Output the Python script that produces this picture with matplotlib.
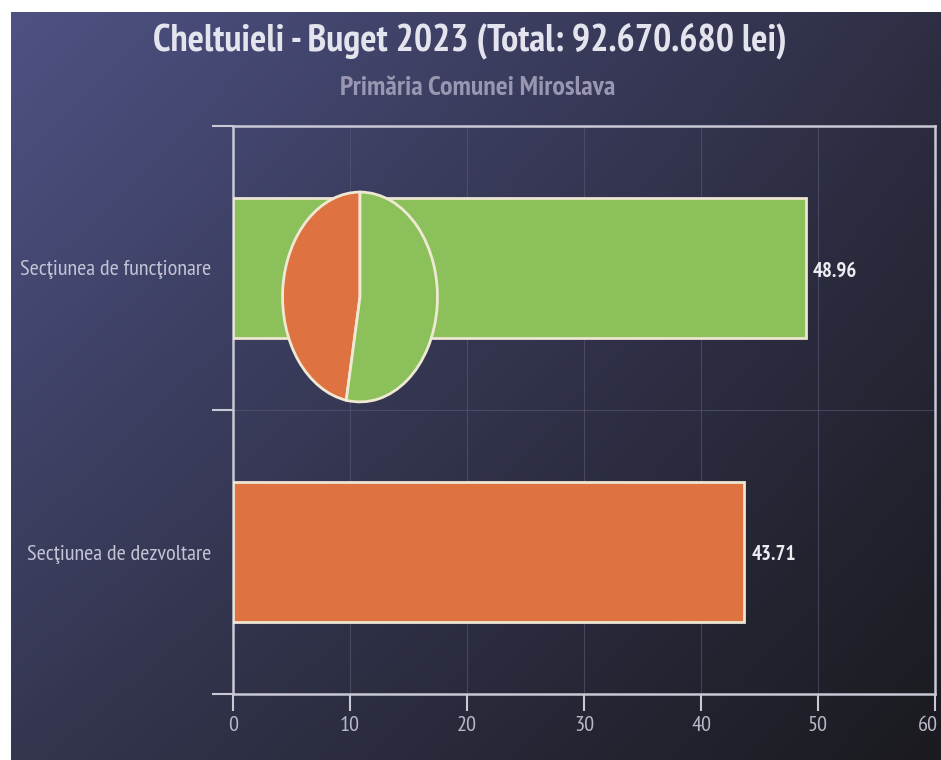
import numpy as np
import matplotlib
matplotlib.use("Agg")
import matplotlib.pyplot as plt
from matplotlib.transforms import ScaledTranslation

categories = ["Secţiunea de funcţionare", "Secţiunea de dezvoltare"]
values = [48.96, 43.71]
bar_colors = ["#8cc05a", "#de7240"]
xticks = [0, 10, 20, 30, 40, 50, 60]
title = "Cheltuieli - Buget 2023 (Total: 92.670.680 lei)"
subtitle = "Primăria Comunei Miroslava"

NARROW = ["PT Sans Narrow", "DejaVu Sans"]
W, H = 941, 760
fig = plt.figure(figsize=(W / 100, H / 100), dpi=100, facecolor="white")

# background gradient
bg = fig.add_axes([11 / W, 0, 1 - 11 / W, 1 - 12 / H], zorder=-10)
tl = np.array([0x4e, 0x52, 0x84]) / 255
tr = np.array([0x2e, 0x2e, 0x44]) / 255
bl = np.array([0x34, 0x36, 0x50]) / 255
br = np.array([0x1a, 0x1a, 0x1f]) / 255
ny, nx = 200, 240
u = np.linspace(0, 1, nx)[None, :, None]
v = np.linspace(0, 1, ny)[:, None, None]
img = (1 - u) * (1 - v) * tl + u * (1 - v) * tr + (1 - u) * v * bl + u * v * br
bg.imshow(img, aspect="auto", extent=[0, 1, 0, 1], interpolation="bilinear")
bg.set_axis_off()

line_c = "#c9c9d6"
ax = fig.add_axes([233 / W, 1 - 694 / H, (935 - 233) / W, (694 - 126) / H])
ax.set_facecolor("none")
ypos = [1, 0]
ax.barh(ypos, values, height=0.49, color=bar_colors, edgecolor="#ece6d2",
        linewidth=2, zorder=3)
ax.set_xlim(0, 60)
ax.set_ylim(-0.5, 1.5)
ax.set_xticks(xticks)
ax.set_xticklabels([str(t) for t in xticks])
ax.set_yticks(ypos)
ax.set_yticklabels(categories)
ax.set_yticks([-0.5, 0.5, 1.5], minor=True)
ax.tick_params(axis="y", which="major", length=0, pad=16, labelsize=16,
               labelcolor="#c4c4d6")
ax.tick_params(axis="y", which="minor", length=15, width=1.5, color=line_c)
ax.tick_params(axis="x", which="major", length=12, width=1.5, color=line_c,
               labelsize=16, labelcolor="#b8b8c8", pad=4)
for lab in ax.get_yticklabels() + ax.get_xticklabels():
    lab.set_family(NARROW)
last = ax.get_xticklabels()[-1]
last.set_transform(last.get_transform() + ScaledTranslation(-0.07, 0, fig.dpi_scale_trans))
for s in ax.spines.values():
    s.set_color(line_c)
    s.set_linewidth(1.8)
ax.grid(True, axis="x", color="#5a5a78", linewidth=0.8, alpha=0.6, zorder=0)
ax.grid(True, axis="y", which="minor", color="#5a5a78", linewidth=0.8, alpha=0.6, zorder=0)

for y, val in zip(ypos, values):
    ax.text(val + 0.6, y - 0.01, f"{val:.2f}", va="center", ha="left", color="#ececf2",
            fontsize=15, fontweight="bold", family=NARROW, zorder=4)

fig.text(470 / W, 1 - 42 / H, title, ha="center", va="center", color="#e4e4ee",
         fontsize=27.5, fontweight="bold", family=NARROW)
fig.text(478 / W, 1 - 88 / H, subtitle, ha="center", va="center", color="#9896b0",
         fontsize=20, fontweight="bold", family=NARROW)

# pie inset
pax = fig.add_axes([281 / W, 1 - 404 / H, 158 / W, 214 / H], zorder=5)
pax.pie([values[1], values[0]], colors=[bar_colors[1], bar_colors[0]],
        startangle=90, counterclock=True,
        wedgeprops=dict(edgecolor="#efe9d4", linewidth=2))
pax.set_aspect("auto")
pax.set_xlim(-1.02, 1.02)
pax.set_ylim(-1.02, 1.02)
pax.set_axis_off()

fig.savefig("out.png", dpi=100, facecolor="white")
